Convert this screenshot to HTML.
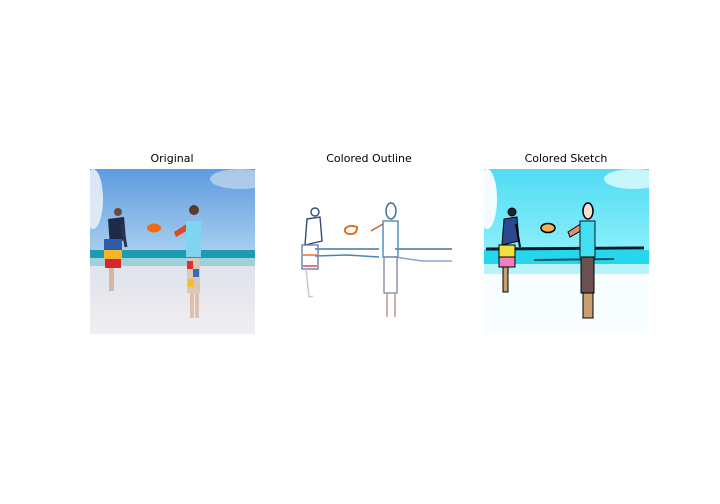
<!DOCTYPE html>
<html><head><meta charset="utf-8"><style>
body{margin:0;background:#fff;}
svg{display:block;font-family:"DejaVu Sans","Liberation Sans",sans-serif;}
</style></head><body>
<svg width="720" height="504" viewBox="0 0 720 504">
<defs>
<linearGradient id="sky" x1="0" y1="0" x2="0" y2="1"><stop offset="0" stop-color="#5e9be0"/><stop offset="1" stop-color="#a6cdee"/></linearGradient>
<linearGradient id="sand" x1="0" y1="0" x2="0" y2="1"><stop offset="0" stop-color="#dfe3ec"/><stop offset="1" stop-color="#f1eef1"/></linearGradient>
<linearGradient id="sky3" x1="0" y1="0" x2="0" y2="1"><stop offset="0" stop-color="#4fdcf4"/><stop offset="1" stop-color="#8aeefa"/></linearGradient>
<clipPath id="clip"><rect width="165" height="165"/></clipPath>
</defs>
<g transform="translate(90,169)">
<g clip-path="url(#clip)">
<rect width="165" height="81" fill="url(#sky)"/>
<ellipse cx="3" cy="30" rx="10" ry="30" fill="#e8eef6" opacity="0.9"/>
<ellipse cx="150" cy="10" rx="30" ry="10" fill="#c9dcf0" opacity="0.7"/>
<rect y="81" width="165" height="8" fill="#1d9bb0"/>
<rect y="89" width="165" height="8" fill="#9fd0dc"/>
<rect y="97" width="165" height="68" fill="url(#sand)"/>
<circle cx="28" cy="43" r="4" fill="#6b4a3a"/>
<path d="M18 50 L34 48 L36 70 L20 78 Z" fill="#1e2a48"/>
<rect x="14" y="70" width="18" height="11" fill="#2d5ca8"/>
<rect x="14" y="81" width="18" height="9" fill="#f5b52a"/>
<rect x="15" y="90" width="16" height="9" fill="#d8262e"/>
<rect x="19" y="99" width="5" height="23" fill="#d8b6a0"/>
<line x1="32" y1="55" x2="36" y2="78" stroke="#2b3550" stroke-width="3"/>
<ellipse cx="64" cy="59" rx="7" ry="4.5" fill="#f06a12"/>
<circle cx="104" cy="41" r="5" fill="#5b3a2a"/>
<path d="M84 63 L98 54 L100 60 L86 68 Z" fill="#d84a2a"/>
<rect x="96" y="52" width="15" height="36" fill="#7fd4ee"/>
<rect x="97" y="89" width="13" height="35" fill="#d9c8b8"/>
<rect x="97" y="92" width="6" height="8" fill="#e03030"/><rect x="103" y="100" width="6" height="8" fill="#3a6ab0"/><rect x="98" y="110" width="6" height="8" fill="#f0c030"/>
<rect x="100" y="124" width="4" height="25" fill="#e0c0a8"/><rect x="105" y="124" width="4" height="25" fill="#e0c0a8"/>
</g>
</g>
<text x="172" y="162" font-size="11" text-anchor="middle" fill="#000">Original</text>
<g transform="translate(287,169)" fill="none" stroke-width="1.4">
<line x1="28" y1="80" x2="92" y2="80" stroke="#3a78a8"/>
<line x1="108" y1="80" x2="165" y2="80" stroke="#3a78a8"/>
<path d="M28 87 L60 86 L92 88" stroke="#4a84b4"/>
<path d="M108 88 L135 92 L165 92" stroke="#8aa8c8"/>
<circle cx="28" cy="43" r="4" stroke="#334a70"/>
<path d="M20 50 L33 48 L35 72 L18 76 Z" stroke="#334a70"/>
<rect x="15" y="76" width="16" height="24" stroke="#6a80a8"/>
<line x1="16" y1="86" x2="30" y2="86" stroke="#e06820"/>
<line x1="16" y1="97" x2="30" y2="97" stroke="#d84030"/>
<path d="M19 100 L22 128 L26 127" stroke="#c0c8d8"/>
<path d="M58 60 Q62 55 70 58 Q70 65 64 65 Q57 65 58 60 Z" stroke="#e07020" stroke-width="2"/>
<ellipse cx="104" cy="42" rx="5" ry="8" stroke="#3a6a98"/>
<path d="M84 62 L96 55" stroke="#d05a30"/>
<rect x="96" y="52" width="15" height="36" stroke="#4a88b8"/>
<rect x="97" y="88" width="13" height="36" stroke="#8a8aa0"/>
<path d="M100 124 L100 148 M108 124 L108 148" stroke="#c08888"/>
</g>
<text x="369" y="162" font-size="11" text-anchor="middle" fill="#000">Colored Outline</text>
<g transform="translate(484,169)">
<g clip-path="url(#clip)">
<rect width="165" height="81" fill="url(#sky3)"/>
<ellipse cx="3" cy="30" rx="10" ry="30" fill="#f4fcff"/>
<ellipse cx="150" cy="10" rx="30" ry="10" fill="#c8f6fd"/>
<rect y="81" width="165" height="14" fill="#26d6ec"/>
<rect y="95" width="165" height="10" fill="#b8f2fa"/>
<rect y="105" width="165" height="60" fill="#f8feff"/>
<path d="M2 80 L160 79" stroke="#0a1a28" stroke-width="3"/>
<path d="M50 91 L130 90" stroke="#0a1a28" stroke-width="2" opacity="0.7"/>
<circle cx="28" cy="43" r="4" fill="#223" stroke="#000"/>
<path d="M20 50 L33 48 L35 72 L18 76 Z" fill="#2a4a90" stroke="#000"/>
<rect x="15" y="76" width="16" height="12" fill="#f0e040" stroke="#000"/>
<rect x="15" y="88" width="16" height="10" fill="#f080c0" stroke="#000"/>
<rect x="19" y="98" width="5" height="25" fill="#c8a070" stroke="#000"/>
<line x1="32" y1="55" x2="36" y2="78" stroke="#000" stroke-width="2"/>
<ellipse cx="64" cy="59" rx="7" ry="4.5" fill="#f4b050" stroke="#000" stroke-width="1.5"/>
<ellipse cx="104" cy="42" rx="5" ry="8" fill="#f8e0d0" stroke="#000" stroke-width="1.5"/>
<path d="M84 63 L98 54 L100 60 L86 68 Z" fill="#e09070" stroke="#000"/>
<rect x="96" y="52" width="15" height="36" fill="#40e0f0" stroke="#112" />
<rect x="97" y="88" width="13" height="36" fill="#6a5050" stroke="#000"/>
<rect x="99" y="124" width="10" height="25" fill="#c8a070" stroke="#000"/>
</g>
</g>
<text x="566" y="162" font-size="11" text-anchor="middle" fill="#000">Colored Sketch</text>
</svg>
</body></html>
